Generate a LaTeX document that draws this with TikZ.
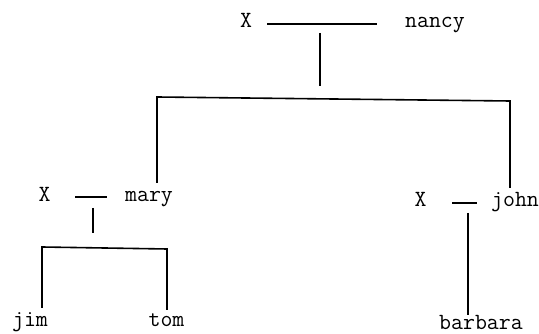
\documentclass[tikz,border=0pt]{standalone}
\begin{document}
\begin{tikzpicture}[x=0.75pt,y=-0.75pt,
  lbl/.style={font=\ttfamily\fontsize{17.4}{20}\selectfont, inner sep=0pt, anchor=base},
  ln/.style={line width=1.2pt, black}]
\useasboundingbox (0,0) rectangle (539,334);
% text nodes
\node[lbl] (x1) at (246,28) {X};
\node[lbl] (nancy) at (435,28) {nancy};
\node[lbl] (x2) at (44.5,202) {X};
\node[lbl] (mary) at (149,202) {mary};
\node[lbl] (x3) at (420.5,207) {X};
\node[lbl] (john) at (515,207) {john};
\node[lbl] (jim) at (30,327) {jim};
\node[lbl] (tom) at (166.5,327) {tom};
\node[lbl] (barbara) at (481,330) {barbara};
% line points
\coordinate (m1a) at (267,24); \coordinate (m1b) at (377,24);
\coordinate (d1a) at (320,33); \coordinate (d1b) at (320,86);
\coordinate (b1l) at (157,97); \coordinate (b1r) at (510,101);
\coordinate (marytop) at (157,183); \coordinate (johntop) at (510,188);
\coordinate (m2a) at (75,197); \coordinate (m2b) at (107,197);
\coordinate (d2a) at (93,208); \coordinate (d2b) at (93,233);
\coordinate (b2l) at (42,247); \coordinate (b2r) at (167,249);
\coordinate (jimtop) at (42,308); \coordinate (tomtop) at (167,310);
\coordinate (m3a) at (452,203); \coordinate (m3b) at (477,203);
\coordinate (d3a) at (468,213); \coordinate (barbtop) at (468,315);
% connectors
\draw[ln] (m1a) -- (m1b);
\draw[ln] (d1a) -- (d1b);
\draw[ln] (marytop) -- (b1l) -- (b1r) -- (johntop);
\draw[ln] (m2a) -- (m2b);
\draw[ln] (d2a) -- (d2b);
\draw[ln] (jimtop) -- (b2l) -- (b2r) -- (tomtop);
\draw[ln] (m3a) -- (m3b);
\draw[ln] (d3a) -- (barbtop);
\end{tikzpicture}
\end{document}
